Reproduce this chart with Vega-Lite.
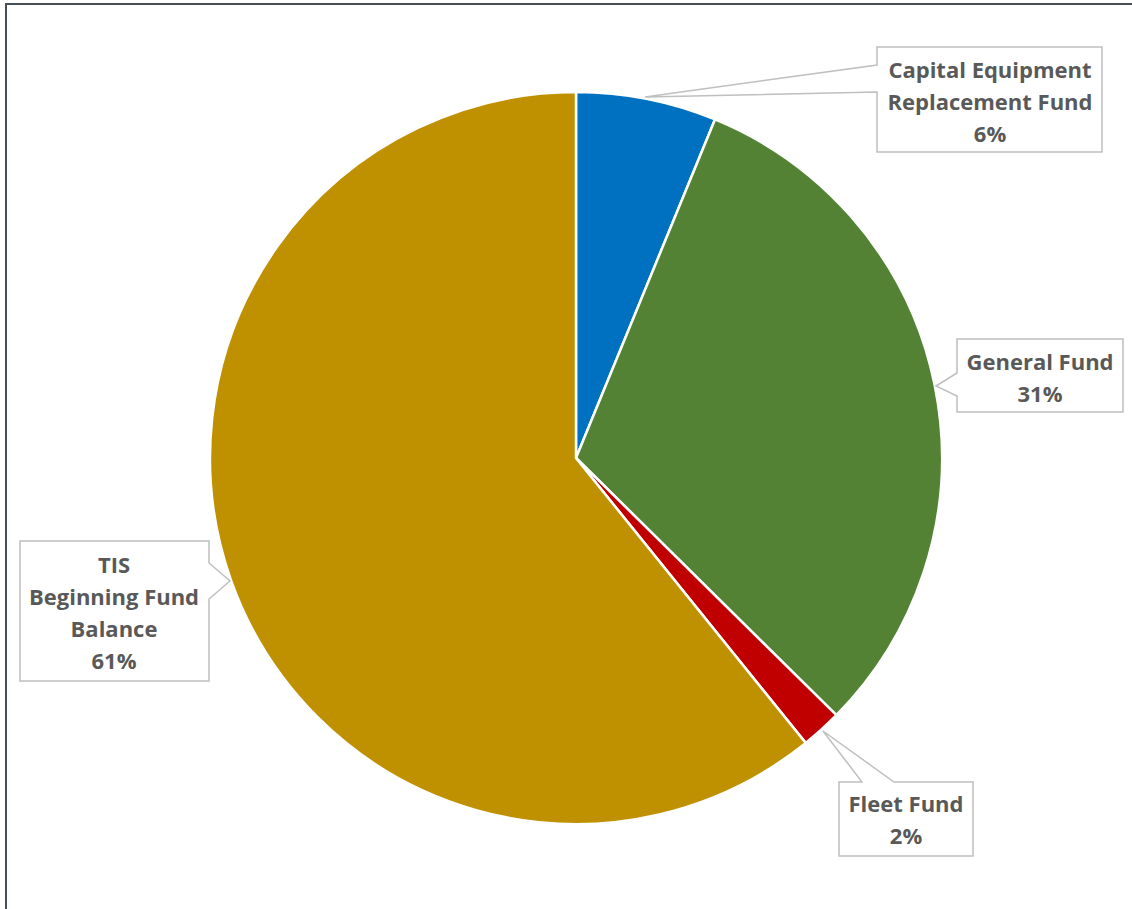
{
  "$schema": "https://vega.github.io/schema/vega-lite/v6.json",
  "width": 1132,
  "height": 909,
  "autosize": {"type": "fit", "contains": "padding"},
  "padding": {"left": 6, "top": 4, "right": -3, "bottom": -3},
  "background": "white",
  "view": {"stroke": "#474f57", "strokeWidth": 2},
  "config": {
    "view": {"stroke": "#474f57", "strokeWidth": 2},
    "text": {"font": "Open Sans", "fontWeight": "bold", "fontSize": 22, "fill": "#595959", "lineBreak": "\n", "lineHeight": 32, "align": "center", "baseline": "middle"}
  },
  "data": {
    "values": [
      {"cat": "Capital Equipment Replacement Fund", "value": 6.2, "order": 1, "label": "Capital Equipment\nReplacement Fund\n6%"},
      {"cat": "General Fund", "value": 31.2, "order": 2, "label": "General Fund\n31%"},
      {"cat": "Fleet Fund", "value": 1.8, "order": 3, "label": "Fleet Fund\n2%"},
      {"cat": "TIS Beginning Fund Balance", "value": 60.8, "order": 4, "label": "TIS\nBeginning Fund\nBalance\n61%"}
    ]
  },
  "layer": [
    {
      "mark": {"type": "arc", "outerRadius": 366, "stroke": "white", "strokeWidth": 2.5, "xOffset": 5.5, "yOffset": 0},
      "encoding": {
        "theta": {"field": "value", "type": "quantitative", "stack": true},
        "order": {"field": "order", "type": "quantitative"},
        "color": {
          "field": "cat", "type": "nominal", "legend": null,
          "scale": {
            "domain": ["Capital Equipment Replacement Fund", "General Fund", "Fleet Fund", "TIS Beginning Fund Balance"],
            "range": ["#0070C0", "#548235", "#C00000", "#BF9000"]
          }
        }
      }
    },
    {
      "mark": {"type": "point", "filled": true, "fill": "white", "stroke": "#bfbfbf", "strokeWidth": 1.5, "opacity": 1, "size": 4, "xOffset": 5.5, "yOffset": 0},
      "encoding": {
        "shape": {
          "field": "cat", "type": "nominal", "legend": null,
          "scale": {
            "domain": ["Capital Equipment Replacement Fund", "General Fund", "Fleet Fund", "TIS Beginning Fund Balance"],
            "range": [
              "M69,-361L301,-393L301,-411L526,-411L526,-306L301,-306L301,-366Z",
              "M360,-72L381,-85L381,-119L547,-119L547,-46L381,-46L381,-62Z",
              "M247,273L318,324L397,324L397,398L263,398L263,324L286,324Z",
              "M-346,123L-367,141L-367,223L-556,223L-556,83L-367,83L-367,105Z"
            ]
          }
        }
      }
    },
    {
      "transform": [{"filter": "datum.order == 1"}],
      "mark": {"type": "text", "dx": 419.5, "dy": -387},
      "encoding": {"text": {"field": "label"}}
    },
    {
      "transform": [{"filter": "datum.order == 2"}],
      "mark": {"type": "text", "dx": 469.5, "dy": -95},
      "encoding": {"text": {"field": "label"}}
    },
    {
      "transform": [{"filter": "datum.order == 3"}],
      "mark": {"type": "text", "dx": 335.5, "dy": 347},
      "encoding": {"text": {"field": "label"}}
    },
    {
      "transform": [{"filter": "datum.order == 4"}],
      "mark": {"type": "text", "dx": -456.5, "dy": 108},
      "encoding": {"text": {"field": "label"}}
    }
  ]
}
